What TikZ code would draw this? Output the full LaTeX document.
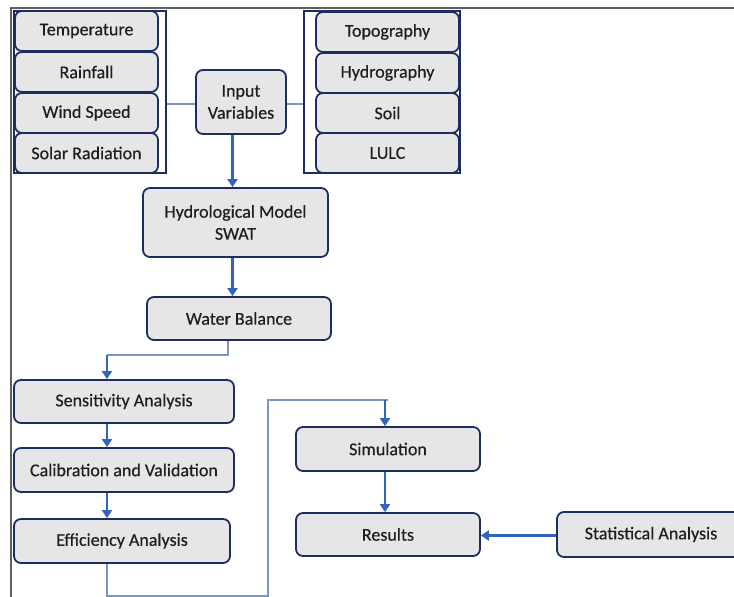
\documentclass[tikz,border=0pt]{standalone}
\usepackage{fontspec}
\setmainfont{Carlito}[FakeBold=0.4]
\usetikzlibrary{arrows.meta}
\definecolor{boxfill}{RGB}{230,230,230}
\definecolor{boxline}{RGB}{30,45,95}
\definecolor{arrblue}{RGB}{50,100,190}
\definecolor{thinblue}{RGB}{120,150,190}
\definecolor{framegray}{RGB}{95,95,95}
\definecolor{txt}{RGB}{30,30,30}
\begin{document}
\begin{tikzpicture}[x=1pt,y=-1pt,
  every node/.style={font=\fontsize{18}{22}\selectfont,text=txt},
  stepbox/.style={draw=boxline,line width=1.8pt,fill=boxfill,rounded corners=7pt,align=center,inner sep=0pt},
  group/.style={draw=boxline,line width=1.6pt,inner sep=0pt},
  arr/.style={draw=arrblue,line width=2.6pt,-{Triangle[width=10pt,length=8pt]}},
  link/.style={draw=thinblue,line width=1.4pt}]
\useasboundingbox (0,0) rectangle (734,597);
% outer frame
\draw[framegray,line width=2.4pt] (11,597) -- (11,8) -- (734,8);
% input groups
\node[group,minimum width=152,minimum height=162] (metgrp) at (90,92) {};
\node[group,minimum width=156,minimum height=162] (geogrp) at (382,92) {};
\foreach \n/\t/\y in {temp/Temperature/31,rain/Rainfall/72,wind/Wind Speed/113,solar/Solar Radiation/153}
  \node[stepbox,minimum width=143,minimum height=40] (\n) at (86.5,\y) {\t};
\foreach \n/\t/\y in {topo/Topography/32,hydro/Hydrography/73,soil/Soil/113,lulc/LULC/153}
  \node[stepbox,minimum width=143,minimum height=40] (\n) at (387.5,\y) {\t};
\node[stepbox,minimum width=90,minimum height=64] (inputs) at (241,102) {Input\\Variables};
\draw[link] ([yshift=-2]inputs.west) -- ([yshift=-2]inputs.west -| metgrp.east);
\draw[link] ([yshift=-2]inputs.east) -- ([yshift=-2]inputs.east -| geogrp.west);
% model chain
\node[stepbox,minimum width=185,minimum height=69] (swat) at (235.5,222.5) {Hydrological Model\\SWAT};
\node[stepbox,minimum width=184,minimum height=43] (wbal) at (239,318.5) {Water Balance};
\draw[arr] ([xshift=-3]swat.north |- inputs.south) -- ([xshift=-3]swat.north);
\draw[arr] ([xshift=-3]swat.south) -- ([xshift=-3]swat.south |- wbal.north);
% calibration chain
\coordinate (lcol) at (107,355);
\node[stepbox,minimum width=220,minimum height=43] (sens) at (124,401.5) {Sensitivity Analysis};
\node[stepbox,minimum width=220,minimum height=44] (calib) at (124,470) {Calibration and Validation};
\node[stepbox,minimum width=216,minimum height=44] (eff) at (122,541) {Efficiency Analysis};
\draw[link] ([xshift=-11]wbal.south) |- (lcol);
\draw[arr] (lcol) -- (lcol |- sens.north);
\draw[arr] (sens.south -| lcol) -- (calib.north -| lcol);
\draw[arr] (calib.south -| lcol) -- (eff.north -| lcol);
% simulation and results
\node[stepbox,minimum width=184,minimum height=44] (sim) at (388,449) {Simulation};
\node[stepbox,minimum width=184,minimum height=43] (res) at (388,534.5) {Results};
\node[stepbox,minimum width=188,minimum height=45] (stat) at (651,534.5) {Statistical Analysis};
\coordinate (b1) at (268,596);
\coordinate (b2) at (268,400);
\draw[link] (eff.south -| lcol) |- (b1) -- (b2) -- (b2 -| sim.north);
\draw[arr] ([xshift=-3]sim.north |- b2) -- ([xshift=-3]sim.north);
\draw[arr] ([xshift=-3]sim.south) -- ([xshift=-3]res.north);
\draw[arr] ([yshift=-1]stat.west) -- ([yshift=-1]res.east);
\end{tikzpicture}
\end{document}
